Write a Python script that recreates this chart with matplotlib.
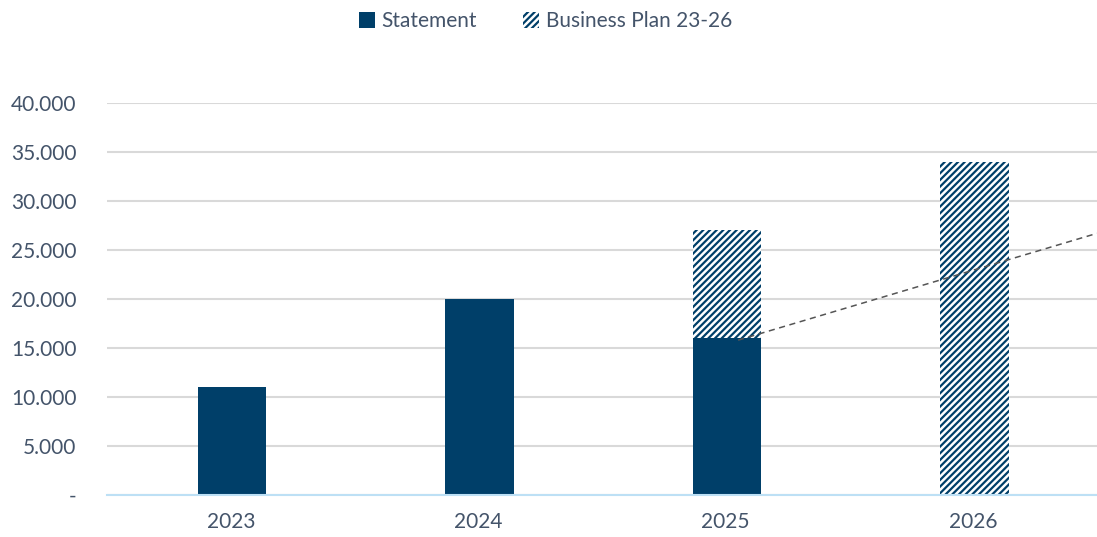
import numpy as np
import matplotlib.pyplot as plt
from matplotlib.patches import Patch
from matplotlib.ticker import FuncFormatter

plt.rcParams["font.family"] = ["Lato", "DejaVu Sans"]
plt.rcParams["hatch.linewidth"] = 1.6

years = ["2023", "2024", "2025", "2026"]
statement = [11000, 20000, 16000, 0]
plan = [0, 0, 27000, 34000]
trend_x = [2.05, 3.5]
trend_y = [15800, 26700]

NAVY = "#003F69"
TEXT = "#44546A"
HATCH = "/////"

fig = plt.figure(figsize=(10.97, 5.37), dpi=100)
ax = fig.add_axes([107 / 1097, 1 - 495 / 537, 990 / 1097, 392 / 537])

x = np.arange(len(years))
w = 0.275

# plan bars (hatched) behind the actual statement values
plan_mask = np.array(plan) > 0
ax.bar(x[plan_mask] + 0.005, np.array(plan)[plan_mask], width=w, color="white",
       edgecolor=NAVY, hatch=HATCH, linewidth=0, zorder=2)
stat_mask = np.array(statement) > 0
ax.bar(x[stat_mask] + 0.005, np.array(statement)[stat_mask], width=w, color=NAVY,
       linewidth=0, zorder=3)

ax.plot(trend_x, trend_y, ls=(0, (4, 3)), color="#555555", lw=1.1,
        zorder=4, clip_on=False)

ax.set_xlim(-0.5, 3.5)
ax.set_ylim(0, 40000)
ax.set_yticks(np.arange(0, 40001, 5000))
ax.yaxis.set_major_formatter(FuncFormatter(
    lambda v, p: "-" if v == 0 else f"{int(v):,}".replace(",", ".")))
ax.set_xticks(x, years)
ax.grid(axis="y", color="#D9D9D9", lw=1.5, zorder=0)
ax.set_axisbelow(True)
for s in ["top", "right", "left"]:
    ax.spines[s].set_visible(False)
ax.spines["bottom"].set_color("#BDE0F5")
ax.spines["bottom"].set_linewidth(1.5)
ax.spines["bottom"].set_zorder(5)
ax.tick_params(length=0, labelsize=15, labelcolor=TEXT)
ax.tick_params(axis="y", pad=22)
ax.tick_params(axis="x", pad=12)

handles = [Patch(facecolor=NAVY, edgecolor="none", label="Statement"),
           Patch(facecolor="white", edgecolor=NAVY, hatch=HATCH,
                 linewidth=0, label="Business Plan 23-26")]
fig.legend(handles=handles, loc="center", bbox_to_anchor=(0.497, 1 - 21 / 537),
           ncol=2, frameon=False, fontsize=15, labelcolor=TEXT,
           handlelength=0.8, handleheight=0.8, handletextpad=0.3,
           columnspacing=2.2)

fig.savefig("out.png", dpi=100)
